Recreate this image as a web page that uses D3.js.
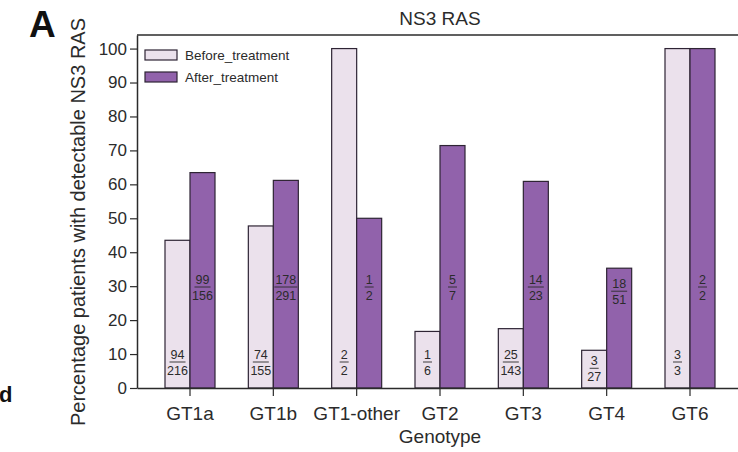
<!DOCTYPE html>
<html>
<head>
<meta charset="utf-8">
<script src="https://cdn.jsdelivr.net/npm/d3@7"></script>
<style>
  body { margin: 0; background: #fff; }
  svg { display: block; font-family: "Liberation Sans", Arial, sans-serif; }
</style>
</head>
<body>
<svg id="chart" width="738" height="452"></svg>
<script>
// Patients with detectable NS3 RAS, by HCV genotype: count with RAS / patients tested
const genotypes = ["GT1a", "GT1b", "GT1-other", "GT2", "GT3", "GT4", "GT6"];
const beforeNum = [94, 74, 2, 1, 25, 3, 3];
const beforeDen = [216, 155, 2, 6, 143, 27, 3];
const afterNum  = [99, 178, 1, 5, 14, 18, 2];
const afterDen  = [156, 291, 2, 7, 23, 51, 2];
const seriesNames = ["Before_treatment", "After_treatment"];
const yTicks = [0, 10, 20, 30, 40, 50, 60, 70, 80, 90, 100];

const colors = { Before_treatment: "#ebe1ec", After_treatment: "#9162ab" };
const ink = "#2b2b2b";
const barStroke = "#2e2434";

const rows = genotypes.map((g, i) => ({
  genotype: g,
  bars: [
    { series: seriesNames[0], num: beforeNum[i], den: beforeDen[i] },
    { series: seriesNames[1], num: afterNum[i], den: afterDen[i] }
  ].map(b => ({ ...b, pct: b.num / b.den * 100 }))
}));

const svg = d3.select("#chart");
const plotLeft = 137, plotRight = 743, plotTop = 35, plotBottom = 388;

const x = d3.scaleBand().domain(genotypes).range([plotLeft, plotRight])
  .paddingInner(0.4).paddingOuter(0.336);
const xs = d3.scaleBand().domain(seriesNames).range([0, x.bandwidth()]);
const y = d3.scaleLinear().domain([0, 104]).range([plotBottom, plotTop]);

// top frame line
svg.append("line")
  .attr("x1", plotLeft).attr("x2", 738).attr("y1", y(104)).attr("y2", y(104))
  .attr("stroke", ink).attr("stroke-width", 1.5);

// bars
const groups = svg.append("g").selectAll("g").data(rows).join("g")
  .attr("transform", d => `translate(${x(d.genotype)},0)`);

groups.selectAll("rect").data(d => d.bars).join("rect")
  .attr("x", d => xs(d.series))
  .attr("y", d => y(d.pct))
  .attr("width", xs.bandwidth())
  .attr("height", d => y(0) - y(d.pct))
  .attr("fill", d => colors[d.series])
  .attr("stroke", barStroke)
  .attr("stroke-width", 1.2);

// fraction labels inside bars
function fractionY(d) {
  return d.series === seriesNames[0]
    ? Math.max(362, y(d.pct) + 18)
    : Math.max(287, y(d.pct) + 23);
}
const frac = groups.selectAll("g.frac").data(d => d.bars).join("g")
  .attr("class", "frac")
  .attr("transform", d => `translate(${xs(d.series) + xs.bandwidth() / 2},${fractionY(d)})`);

frac.append("text")
  .attr("text-anchor", "middle").attr("y", -3)
  .attr("font-size", 12.5).attr("fill", ink)
  .text(d => d.num);
frac.append("text")
  .attr("text-anchor", "middle").attr("y", 12.5)
  .attr("font-size", 12.5).attr("fill", ink)
  .text(d => d.den);
frac.append("line")
  .attr("x1", d => -String(d.num).length * 3.5 - 1)
  .attr("x2", d => String(d.num).length * 3.5 + 1)
  .attr("y1", 0).attr("y2", 0)
  .attr("stroke", ink).attr("stroke-width", 0.9);

// y axis
const yAxis = svg.append("g")
  .attr("transform", `translate(${plotLeft},0)`)
  .call(d3.axisLeft(y).tickValues(yTicks).tickSize(7).tickSizeOuter(0).tickPadding(3));
yAxis.select(".domain").attr("stroke", ink).attr("stroke-width", 1.5);
yAxis.selectAll(".tick line").attr("stroke", ink).attr("stroke-width", 1.2);
yAxis.selectAll(".tick text").attr("font-size", 17).attr("fill", ink)
  .attr("font-family", "Liberation Sans, Arial, sans-serif");

// x axis
const xAxis = svg.append("g")
  .attr("transform", `translate(0,${plotBottom})`)
  .call(d3.axisBottom(x).tickSize(8).tickSizeOuter(0).tickPadding(11));
xAxis.select(".domain").attr("stroke", ink).attr("stroke-width", 1.5);
xAxis.selectAll(".tick line").attr("stroke", ink).attr("stroke-width", 1.2);
xAxis.selectAll(".tick text").attr("font-size", 19).attr("fill", ink)
  .attr("font-family", "Liberation Sans, Arial, sans-serif");

// legend
const legend = svg.append("g").selectAll("g").data(seriesNames).join("g")
  .attr("transform", (d, i) => `translate(145,${50 + i * 22})`);
legend.append("rect")
  .attr("width", 32).attr("height", 10)
  .attr("fill", d => colors[d]).attr("stroke", barStroke).attr("stroke-width", 1.2);
legend.append("text")
  .attr("x", 40).attr("y", 9.5)
  .attr("font-size", 13.5).attr("fill", ink)
  .text(d => d);

// titles
svg.append("text")
  .attr("x", 440).attr("y", 25).attr("text-anchor", "middle")
  .attr("font-size", 19).attr("fill", ink)
  .text("NS3 RAS");
svg.append("text")
  .attr("transform", "translate(85,222) rotate(-90)")
  .attr("text-anchor", "middle")
  .attr("font-size", 20).attr("fill", ink)
  .text("Percentage patients with detectable NS3 RAS");
svg.append("text")
  .attr("x", 440).attr("y", 443).attr("text-anchor", "middle")
  .attr("font-size", 19).attr("fill", ink)
  .text("Genotype");

// panel letters
svg.append("text")
  .attr("x", 29).attr("y", 37)
  .attr("font-size", 37).attr("font-weight", "bold").attr("fill", "#111")
  .text("A");
svg.append("text")
  .attr("x", -1).attr("y", 402)
  .attr("font-size", 22).attr("font-weight", "bold").attr("fill", "#111")
  .text("d");
</script>
</body>
</html>
